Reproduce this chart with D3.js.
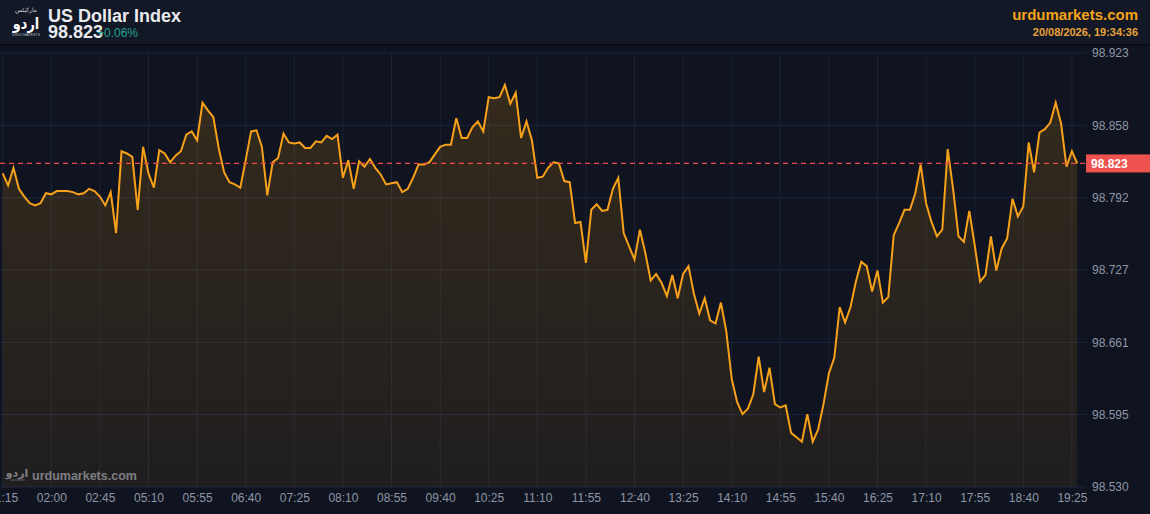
<!DOCTYPE html>
<html>
<head>
<meta charset="utf-8">
<script src="https://cdn.jsdelivr.net/npm/d3@7"></script>
<style>
  html, body { margin: 0; padding: 0; background: #0f1420; }
  svg { display: block; font-family: "Liberation Sans", Arial, sans-serif; }
</style>
</head>
<body>
<svg id="chart" width="1150" height="514"></svg>
<script>
// ---- data ----
const values = [
  98.814, 98.803, 98.819, 98.800, 98.793, 98.787, 98.785, 98.787, 98.796, 98.795,
  98.798, 98.798, 98.798, 98.797, 98.795, 98.796, 98.800, 98.798, 98.793, 98.785,
  98.797, 98.760, 98.834, 98.832, 98.829, 98.781, 98.838, 98.814, 98.801, 98.835,
  98.832, 98.824, 98.830, 98.834, 98.849, 98.852, 98.844, 98.878, 98.871, 98.865,
  98.837, 98.815, 98.806, 98.804, 98.801, 98.826, 98.852, 98.853, 98.838, 98.794,
  98.824, 98.828, 98.850, 98.842, 98.841, 98.842, 98.837, 98.837, 98.843, 98.842,
  98.848, 98.845, 98.849, 98.810, 98.826, 98.800, 98.825, 98.820, 98.827, 98.819,
  98.813, 98.804, 98.805, 98.806, 98.797, 98.800, 98.810, 98.822, 98.822, 98.824,
  98.831, 98.838, 98.840, 98.840, 98.864, 98.846, 98.846, 98.856, 98.861, 98.852,
  98.883, 98.882, 98.883, 98.894, 98.877, 98.887, 98.846, 98.861, 98.844, 98.810,
  98.811, 98.819, 98.824, 98.823, 98.807, 98.806, 98.769, 98.770, 98.733, 98.781,
  98.786, 98.780, 98.781, 98.800, 98.810, 98.760, 98.748, 98.736, 98.763, 98.742,
  98.717, 98.723, 98.715, 98.703, 98.722, 98.701, 98.723, 98.730, 98.705, 98.687,
  98.701, 98.681, 98.678, 98.697, 98.671, 98.628, 98.607, 98.596, 98.601, 98.614,
  98.648, 98.616, 98.638, 98.605, 98.602, 98.604, 98.579, 98.575, 98.571, 98.596,
  98.571, 98.582, 98.605, 98.633, 98.647, 98.693, 98.679, 98.693, 98.716, 98.734,
  98.730, 98.707, 98.726, 98.697, 98.702, 98.758, 98.769, 98.781, 98.781, 98.796,
  98.822, 98.787, 98.770, 98.757, 98.763, 98.836, 98.800, 98.757, 98.752, 98.780,
  98.749, 98.716, 98.722, 98.757, 98.726, 98.746, 98.755, 98.791, 98.775, 98.784,
  98.842, 98.815, 98.851, 98.854, 98.860, 98.878, 98.859, 98.820, 98.834, 98.823
];
const timeLabels = ["01:15","02:00","02:45","05:10","05:55","06:40","07:25","08:10","08:55",
  "09:40","10:25","11:10","11:55","12:40","13:25","14:10","14:55","15:40","16:25","17:10",
  "17:55","18:40","19:25"];
const timeLabelIndex = [0,9,18,27,36,45,54,63,72,81,90,99,108,117,126,135,144,153,162,171,180,189,198];
const yTickValues = [98.530, 98.5955, 98.661, 98.7265, 98.792, 98.8575, 98.923];
const yTickLabels = ["98.530","98.595","98.661","98.727","98.792","98.858","98.923"];
const lastPrice = 98.823;
const title = "US Dollar Index";
const changeText = "+0.06%";
const siteName = "urdumarkets.com";
const stamp = "20/08/2026, 19:34:36";

// ---- layout ----
const svg = d3.select("#chart");
const W = 1150, H = 514;
const plotRight = 1086, plotTop = 53, plotBottom = 487;

const x = d3.scalePoint().domain(d3.range(values.length)).range([2.7, 1077.3]);
const y = d3.scaleLinear().domain([98.530, 98.923]).range([plotBottom, plotTop]);

// backgrounds
svg.append("rect").attr("width", W).attr("height", H).attr("fill", "#0f1420");
svg.append("rect").attr("width", W).attr("height", 44).attr("fill", "#121825");
svg.append("rect").attr("y", 44).attr("width", W).attr("height", 2).attr("fill", "#0a0d15");

const defs = svg.append("defs");
const grad = defs.append("linearGradient").attr("id", "fillGrad")
  .attr("gradientUnits", "userSpaceOnUse")
  .attr("x1", 0).attr("x2", 0).attr("y1", plotTop).attr("y2", plotBottom);
grad.append("stop").attr("offset", "0%").attr("stop-color", "#f59e0b").attr("stop-opacity", 0.17);
grad.append("stop").attr("offset", "100%").attr("stop-color", "#f59e0b").attr("stop-opacity", 0.07);

// grid
const grid = svg.append("g");
grid.selectAll("line.h").data(yTickValues).join("line")
  .attr("x1", 0).attr("x2", plotRight)
  .attr("y1", d => y(d)).attr("y2", d => y(d))
  .attr("stroke", "#1c2540").attr("stroke-width", 1);
grid.selectAll("line.v").data(timeLabelIndex).join("line")
  .attr("x1", d => x(d)).attr("x2", d => x(d))
  .attr("y1", plotTop).attr("y2", plotBottom)
  .attr("stroke", "#1b2235").attr("stroke-width", 1);

// area + line
const area = d3.area().x((d, i) => x(i)).y0(plotBottom).y1(d => y(d));
svg.append("path").datum(values).attr("d", area).attr("fill", "url(#fillGrad)");
const line = d3.line().x((d, i) => x(i)).y(d => y(d));
svg.append("path").datum(values).attr("d", line)
  .attr("fill", "none").attr("stroke", "#f7a11a").attr("stroke-width", 2);

// last price dashed line
svg.append("line").attr("x1", 0).attr("x2", plotRight)
  .attr("y1", y(lastPrice)).attr("y2", y(lastPrice))
  .attr("stroke", "#f04848").attr("stroke-width", 1.3).attr("stroke-dasharray", "5,4");

// y axis (right)
const yAxis = d3.axisRight(y).tickValues(yTickValues)
  .tickFormat((d, i) => yTickLabels[i]).tickSize(0).tickPadding(0);
const yg = svg.append("g").attr("transform", `translate(1092,0)`).call(yAxis);
yg.select(".domain").remove();
yg.selectAll("text").attr("fill", "#8e96a6").attr("font-size", 12).attr("font-family", "Liberation Sans, Arial, sans-serif");

// price badge
svg.append("rect").attr("x", plotRight).attr("y", y(lastPrice) - 9).attr("width", W - plotRight).attr("height", 18)
  .attr("fill", "#ef5350");
svg.append("text").attr("x", 1091).attr("y", y(lastPrice)).attr("dy", "0.35em")
  .attr("fill", "#ffffff").attr("font-size", 12).attr("font-weight", "bold").text(lastPrice.toFixed(3));

// x axis
const xAxis = d3.axisBottom(x).tickValues(timeLabelIndex)
  .tickFormat((d, i) => timeLabels[i]).tickSize(0).tickPadding(0);
const xg = svg.append("g").attr("transform", `translate(0,${plotBottom + 6})`).call(xAxis);
xg.select(".domain").remove();
xg.selectAll("text").attr("fill", "#8e96a6").attr("font-size", 12).attr("font-family", "Liberation Sans, Arial, sans-serif");

// header: logo
const logo = svg.append("g").attr("transform", "translate(26,0)");
logo.append("text").attr("x", 0).attr("y", 12).attr("text-anchor", "middle")
  .attr("font-size", 6).attr("fill", "#cfd3da").attr("font-family", "DejaVu Sans").text("مارکیٹس");
logo.append("text").attr("x", 0).attr("y", 29).attr("text-anchor", "middle")
  .attr("font-size", 16).attr("font-weight", "bold").attr("fill", "#ffffff").attr("font-family", "DejaVu Sans")
  .attr("transform", "scale(0.8,1)").text("اردو");
logo.append("text").attr("x", 0).attr("y", 36).attr("text-anchor", "middle")
  .attr("font-size", 3.5).attr("fill", "#b8bcc6").text("URDU MARKETS");

svg.append("text").attr("x", 48).attr("y", 22).attr("fill", "#e8eaef")
  .attr("font-size", 18).attr("font-weight", "bold").text(title);
svg.append("text").attr("x", 48).attr("y", 38).attr("fill", "#e8eaef")
  .attr("font-size", 18).attr("font-weight", "bold").text(lastPrice.toFixed(3));
svg.append("text").attr("x", 97).attr("y", 37).attr("fill", "#22a392")
  .attr("font-size", 12).text(changeText);

svg.append("text").attr("x", 1138).attr("y", 20).attr("text-anchor", "end").attr("fill", "#f5a31a")
  .attr("font-size", 15).attr("font-weight", "bold").text(siteName);
svg.append("text").attr("x", 1138).attr("y", 36).attr("text-anchor", "end").attr("fill", "#e9a23b")
  .attr("font-size", 11).attr("font-weight", "bold").text(stamp);

// watermark
const wm = svg.append("g").attr("opacity", 0.55);
wm.append("text").attr("x", 17).attr("y", 477).attr("text-anchor", "middle")
  .attr("font-size", 11).attr("font-weight", "bold").attr("fill", "#d0d3da").attr("font-family", "DejaVu Sans").text("اردو");
wm.append("line").attr("x1", 10).attr("x2", 25).attr("y1", 480).attr("y2", 480).attr("stroke", "#d0d3da").attr("stroke-width", 0.6);
wm.append("text").attr("x", 32).attr("y", 480).attr("fill", "#c8ccd4")
  .attr("font-size", 12.5).attr("font-weight", "bold").text(siteName);
</script>
</body>
</html>
